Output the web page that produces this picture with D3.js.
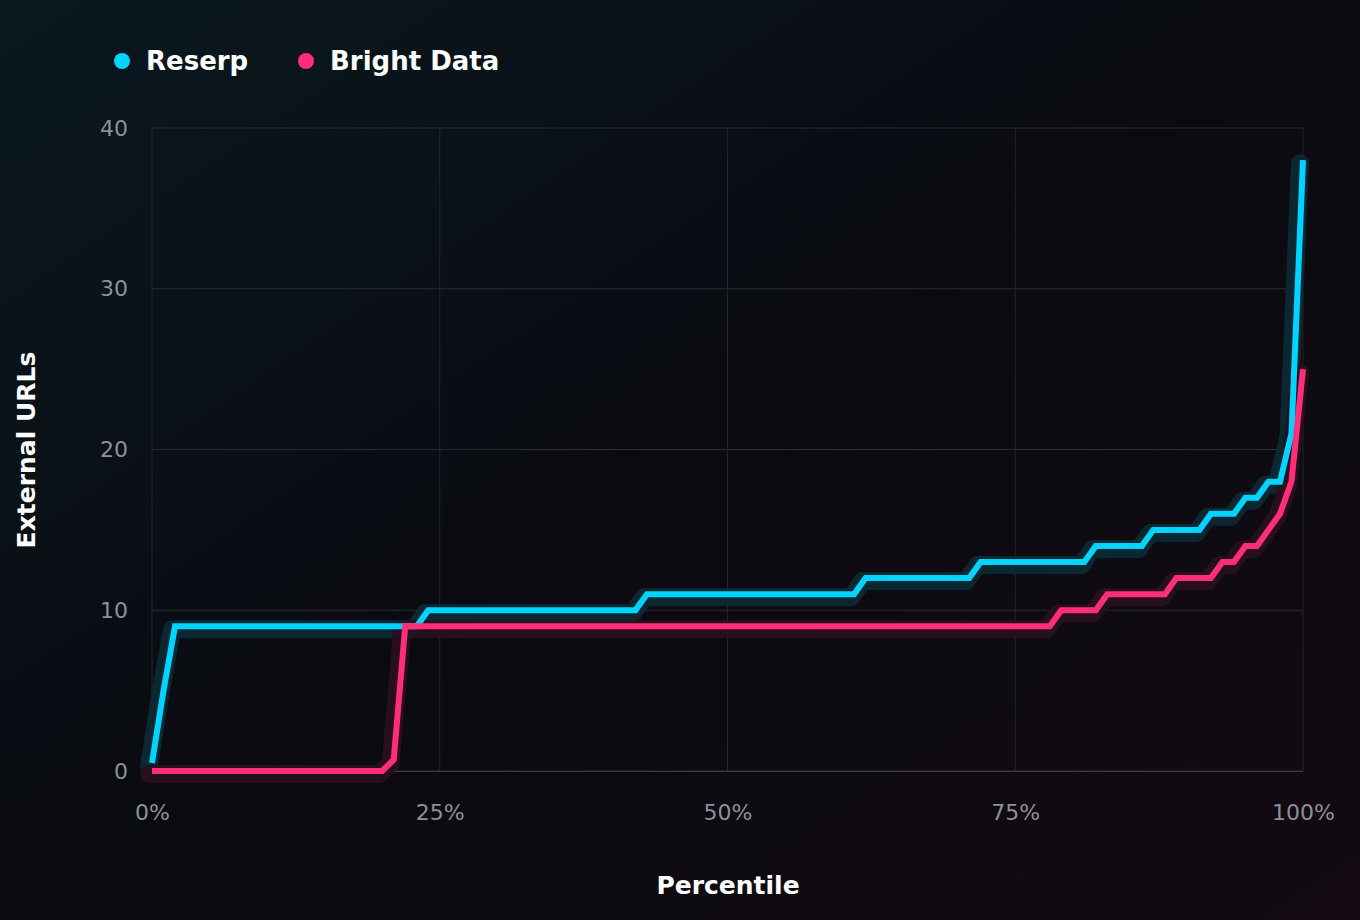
<!DOCTYPE html>
<html><head><meta charset="utf-8">
<script src="https://cdn.jsdelivr.net/npm/d3@7"></script>
<style>html,body{margin:0;padding:0;background:#0a0d12;}svg{display:block;font-family:"DejaVu Sans",sans-serif;}</style>
</head><body><svg id="c" width="1360" height="920"></svg>
<script>
const percentiles = d3.range(0, 101);
const reserp = [0.5,5,9,9,9,9,9,9,9,9, 9,9,9,9,9,9,9,9,9,9, 9,9,9,9,10,10,10,10,10,10, 10,10,10,10,10,10,10,10,10,10, 10,10,10,11,11,11,11,11,11,11, 11,11,11,11,11,11,11,11,11,11, 11,11,12,12,12,12,12,12,12,12, 12,12,13,13,13,13,13,13,13,13, 13,13,14,14,14,14,14,15,15,15, 15,15,16,16,16,17,17,18,18,21, 38];
const brightData = [0,0,0,0,0,0,0,0,0,0, 0,0,0,0,0,0,0,0,0,0, 0,0.7,9,9,9,9,9,9,9,9, 9,9,9,9,9,9,9,9,9,9, 9,9,9,9,9,9,9,9,9,9, 9,9,9,9,9,9,9,9,9,9, 9,9,9,9,9,9,9,9,9,9, 9,9,9,9,9,9,9,9,9,10, 10,10,10,11,11,11,11,11,11,12, 12,12,12,13,13,14,14,15,16,18, 25];
const seriesNames = ["Reserp","Bright Data"];
const seriesColors = ["#00d4ff","#ff2d7a"];
const yTicks = [0,10,20,30,40];
const xTicks = [0,25,50,75,100];

const svg = d3.select("#c");
const defs = svg.append("defs");
const g = defs.append("linearGradient").attr("id","bg").attr("x1","0").attr("y1","0").attr("x2","1").attr("y2","1");
g.append("stop").attr("offset","0").attr("stop-color","#0a1820");
g.append("stop").attr("offset","0.5").attr("stop-color","#0a0b10");
g.append("stop").attr("offset","1").attr("stop-color","#130a12");
svg.append("rect").attr("width",1360).attr("height",920).attr("fill","url(#bg)");

const x = d3.scaleLinear().domain([0,100]).range([152,1303]);
const y = d3.scaleLinear().domain([0,40]).range([771,128]);

const grid = svg.append("g");
grid.selectAll(".h").data(yTicks).join("line").attr("x1",152).attr("x2",1303).attr("y1",d=>y(d)).attr("y2",d=>y(d)).attr("stroke","#2a2d33").attr("stroke-width",1);
grid.selectAll(".v").data(xTicks).join("line").attr("y1",128).attr("y2",771).attr("x1",d=>x(d)).attr("x2",d=>x(d)).attr("stroke","#22252b").attr("stroke-width",1);
svg.append("line").attr("x1",152).attr("x2",1303).attr("y1",771.5).attr("y2",771.5).attr("stroke","#3a3d44");

const xAxis = svg.append("g").attr("transform","translate(0,771)").call(d3.axisBottom(x).tickValues(xTicks).tickFormat(d=>d+"%").tickSize(0).tickPadding(33));
const yAxis = svg.append("g").attr("transform","translate(152,0)").call(d3.axisLeft(y).tickValues(yTicks).tickSize(0).tickPadding(24));
[xAxis,yAxis].forEach(a=>{a.select(".domain").remove();a.selectAll("text").attr("fill","#8c9099").style("font-size","22px").style("font-family","DejaVu Sans");});

const line = d3.line().x((d,i)=>x(percentiles[i])).y(d=>y(d));
const data = [reserp, brightData];
const glowColors = ["#0b2a36","#2a0f1e"];
data.forEach((s,k)=>{
  svg.append("path").datum(s).attr("d",line).attr("fill","none").attr("stroke",glowColors[k]).attr("stroke-opacity",0.9).attr("stroke-width",18).attr("stroke-linejoin","round").attr("stroke-linecap","round").attr("transform","translate(-3,3)");
});
data.forEach((s,k)=>{
  svg.append("path").datum(s).attr("d",line).attr("fill","none").attr("stroke",seriesColors[k]).attr("stroke-width",6).attr("stroke-linejoin","miter");
});

const leg = svg.append("g");
const lx = [122,306];
seriesNames.forEach((n,i)=>{
  leg.append("circle").attr("cx",lx[i]).attr("cy",61).attr("r",8).attr("fill",seriesColors[i]);
  leg.append("text").attr("x",lx[i]+24).attr("y",70).text(n).attr("fill","#ffffff").style("font-size","26px").style("font-weight","bold");
});

svg.append("text").attr("x",728).attr("y",894).attr("text-anchor","middle").text("Percentile").attr("fill","#fff").style("font-size","25px").style("font-weight","bold");
svg.append("text").attr("transform","translate(35,450) rotate(-90)").attr("text-anchor","middle").text("External URLs").attr("fill","#fff").style("font-size","25px").style("font-weight","bold");
</script></body></html>
